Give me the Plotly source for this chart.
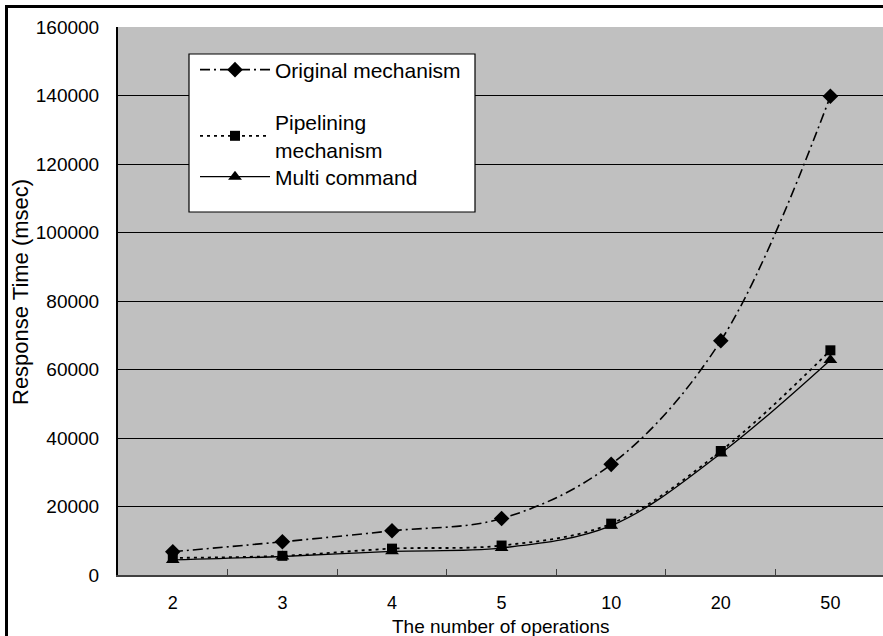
import plotly.graph_objects as go

categories = ["2", "3", "4", "5", "10", "20", "50"]
original = [6800, 9700, 12900, 16500, 32300, 68400, 139800]
pipelining = [5000, 5600, 7700, 8600, 15000, 36200, 65600]
multi = [4400, 5400, 6900, 7900, 14400, 35500, 62800]
yticks = [0, 20000, 40000, 60000, 80000, 100000, 120000, 140000, 160000]

W, H = 883, 636
L, T, R, B = 118, 27, 0, 61
pw = W - L - R
ph = H - T - B

FONT = "Liberation Sans"


def px_x(x):
    return (x - L) / pw


def px_y(y):
    return (H - B - y) / ph


fig = go.Figure()
fig.add_trace(go.Scatter(
    x=categories, y=original, name="Original mechanism", mode="lines+markers",
    legend="legend",
    line=dict(color="black", width=1.6, dash="10px,4px,2px,4px", shape="spline"),
    marker=dict(symbol="diamond", size=12, color="black")))
fig.add_trace(go.Scatter(
    x=categories, y=pipelining, name="Pipelining<br>mechanism", mode="lines+markers",
    legend="legend2",
    line=dict(color="black", width=1.8, dash="3px,4px", shape="spline"),
    marker=dict(symbol="square", size=10, color="black")))
fig.add_trace(go.Scatter(
    x=categories, y=multi, name="Multi command", mode="lines+markers",
    legend="legend3",
    line=dict(color="black", width=1.3, shape="spline"),
    marker=dict(symbol="triangle-up", size=12, color="black")))

shapes = [
    # legend box
    dict(type="rect", xref="paper", yref="paper",
         x0=px_x(189), x1=px_x(475), y0=px_y(212), y1=px_y(54),
         fillcolor="white", line=dict(color="black", width=1.2), layer="above"),
    # outer frame (left and top)
    dict(type="line", xref="paper", yref="paper",
         x0=px_x(6.5), x1=px_x(6.5), y0=px_y(H + 5), y1=px_y(5.5),
         line=dict(color="black", width=3)),
    dict(type="line", xref="paper", yref="paper",
         x0=px_x(5), x1=px_x(W + 5), y0=px_y(6.5), y1=px_y(6.5),
         line=dict(color="black", width=3)),
]

annotations = [
    dict(text="The number of operations", xref="paper", yref="paper",
         x=px_x(501), y=px_y(626), xanchor="center", yanchor="middle",
         showarrow=False, font=dict(family=FONT, size=19, color="black")),
    dict(text="Response Time (msec)", xref="paper", yref="paper",
         x=px_x(20), y=px_y(292), xanchor="center", yanchor="middle",
         textangle=-90, showarrow=False, font=dict(family=FONT, size=22, color="black")),
]

leg_common = dict(xanchor="left", yanchor="middle", bgcolor="rgba(0,0,0,0)",
                  borderwidth=0, font=dict(family=FONT, size=21, color="black"),
                  itemwidth=70)

fig.update_layout(
    width=W, height=H,
    margin=dict(l=L, t=T, r=R, b=B, pad=0),
    paper_bgcolor="white", plot_bgcolor="#C0C0C0",
    font=dict(family=FONT, size=18, color="black"),
    showlegend=True,
    legend=dict(x=px_x(195), y=px_y(70), **leg_common),
    legend2=dict(x=px_x(195), y=px_y(136), **leg_common),
    legend3=dict(x=px_x(195), y=px_y(177), **leg_common),
    shapes=shapes, annotations=annotations,
)
fig.update_xaxes(type="category", range=[-0.5, 6.48], showgrid=False,
                 showline=True, linecolor="#404040", linewidth=2,
                 ticks="inside", tickson="boundaries", ticklen=6, tickcolor="#404040",
                 tickfont=dict(family=FONT, size=18), ticklabelstandoff=10,
                 zeroline=False)
fig.update_yaxes(range=[0, 160000], tickvals=yticks, ticktext=[str(v) for v in yticks],
                 showgrid=True, gridcolor="black", gridwidth=1,
                 showline=True, linecolor="black", linewidth=2, mirror=False,
                 ticks="", tickfont=dict(family=FONT, size=19), ticklabelstandoff=13,
                 zeroline=False)

fig.write_html("out.html")
